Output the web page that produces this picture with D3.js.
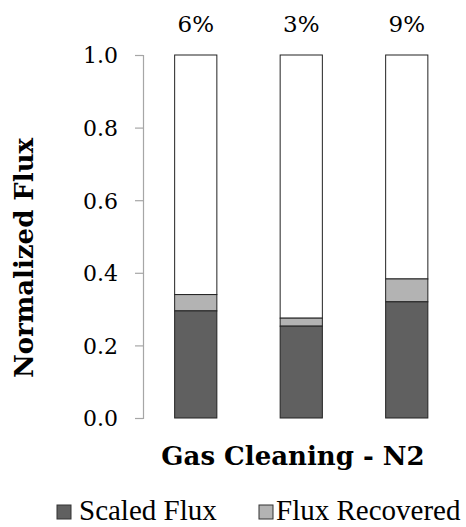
<!DOCTYPE html>
<html>
<head>
<meta charset="utf-8">
<script src="https://cdn.jsdelivr.net/npm/d3@7"></script>
<style>
  body { margin: 0; background: #fff; }
</style>
</head>
<body>
<div class="chart"></div>
<script>
// data
var categories = ["A", "B", "C"];
var scaledFlux = [0.295, 0.253, 0.320];
var fluxRecovered = [0.045, 0.022, 0.063];
var topLabels = ["6%", "3%", "9%"];
var yTicks = [0, 0.2, 0.4, 0.6, 0.8, 1.0];
var seriesNames = ["Scaled Flux", "Flux Recovered"];

var svgWidth = 466;
var svgHeight = 527;
var serif = "'DejaVu Serif', Georgia, serif";
var times = "'Liberation Serif', 'Times New Roman', serif";

var svg = d3.select(".chart")
  .append("svg")
  .attr("width", svgWidth)
  .attr("height", svgHeight);

var xScale = d3.scaleBand()
  .domain(categories)
  .range([143, 459.5]);

var yScale = d3.scaleLinear()
  .domain([0, 1])
  .range([418, 55]);

var barWidth = xScale.bandwidth() * 0.4;

// y axis
var leftAxis = d3.axisLeft(yScale)
  .tickValues(yTicks)
  .tickFormat(d3.format(".1f"))
  .tickSizeOuter(8)
  .tickSizeInner(8)
  .tickPadding(17);

var yAxis = svg.append("g")
  .attr("transform", "translate(143, 0)")
  .call(leftAxis);

// axis() sets its own font, so override afterwards
yAxis.attr("font-family", serif).attr("font-size", 22);
yAxis.select(".domain").attr("stroke", "#a6a6a6").attr("stroke-width", 1.2);
yAxis.selectAll(".tick line").attr("stroke", "#a6a6a6").attr("stroke-width", 1.2);
yAxis.selectAll(".tick text").attr("fill", "#000").attr("dy", "0.36em");

// stacked bars
var barGroups = svg.selectAll(".bar")
  .data(categories)
  .enter()
  .append("g")
  .attr("class", "bar");

// white remainder up to 1.0
barGroups.append("rect")
  .attr("x", d => xScale(d) + (xScale.bandwidth() - barWidth) / 2)
  .attr("y", yScale(1))
  .attr("width", barWidth)
  .attr("height", (d, i) => yScale(scaledFlux[i] + fluxRecovered[i]) - yScale(1))
  .attr("fill", "#fff")
  .attr("stroke", "#222")
  .attr("stroke-width", 1);

barGroups.append("rect")
  .attr("x", d => xScale(d) + (xScale.bandwidth() - barWidth) / 2)
  .attr("y", (d, i) => yScale(scaledFlux[i] + fluxRecovered[i]))
  .attr("width", barWidth)
  .attr("height", (d, i) => yScale(scaledFlux[i]) - yScale(scaledFlux[i] + fluxRecovered[i]))
  .attr("fill", "#b3b3b3")
  .attr("stroke", "#222")
  .attr("stroke-width", 1);

barGroups.append("rect")
  .attr("x", d => xScale(d) + (xScale.bandwidth() - barWidth) / 2)
  .attr("y", (d, i) => yScale(scaledFlux[i]))
  .attr("width", barWidth)
  .attr("height", (d, i) => yScale(0) - yScale(scaledFlux[i]))
  .attr("fill", "#606060")
  .attr("stroke", "#222")
  .attr("stroke-width", 1);

// percentages above bars
barGroups.append("text")
  .attr("x", d => xScale(d) + xScale.bandwidth() / 2)
  .attr("y", 32)
  .attr("text-anchor", "middle")
  .attr("font-family", serif)
  .attr("font-size", 23)
  .text((d, i) => topLabels[i]);

// axis titles
svg.append("text")
  .attr("transform", "translate(33, 258) rotate(-90)")
  .attr("text-anchor", "middle")
  .attr("font-family", serif)
  .attr("font-size", 26)
  .attr("font-weight", "bold")
  .text("Normalized Flux");

svg.append("text")
  .attr("x", 293)
  .attr("y", 465)
  .attr("text-anchor", "middle")
  .attr("font-family", serif)
  .attr("font-size", 26)
  .attr("font-weight", "bold")
  .text("Gas Cleaning - N2");

// legend
var legendColors = ["#606060", "#b3b3b3"];
var legendX = [57, 259];
var legendTextX = [22, 17];
var legend = svg.selectAll(".legend")
  .data(seriesNames)
  .enter()
  .append("g")
  .attr("class", "legend")
  .attr("transform", (d, i) => `translate(${legendX[i]}, 520)`);

legend.append("rect")
  .attr("x", 0)
  .attr("y", -15)
  .attr("width", 14)
  .attr("height", 14)
  .attr("fill", (d, i) => legendColors[i])
  .attr("stroke", "#333")
  .attr("stroke-width", 1);

legend.append("text")
  .attr("x", (d, i) => legendTextX[i])
  .attr("y", 0)
  .attr("font-family", times)
  .attr("font-size", 29)
  .text(d => d);
</script>
</body>
</html>
